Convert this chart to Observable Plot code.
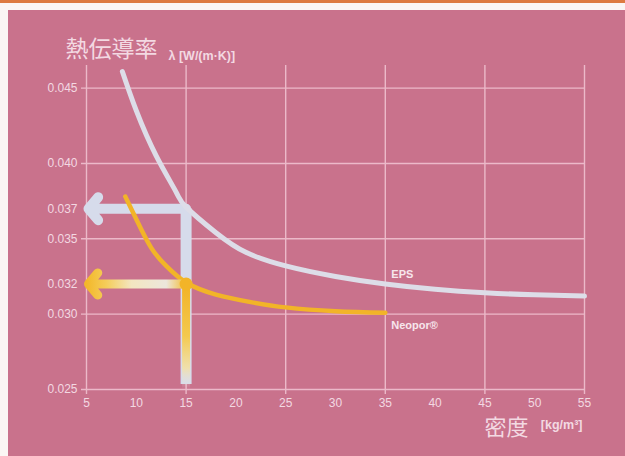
<!DOCTYPE html>
<html><head><meta charset="utf-8">
<script src="https://cdn.jsdelivr.net/npm/d3@7"></script>
<script src="https://cdn.jsdelivr.net/npm/@observablehq/plot@0.6"></script>
<style>
body{margin:0;background:#fbf6f4;width:625px;height:456px;overflow:hidden;position:relative}
#stripe{position:absolute;left:0;top:0;width:625px;height:3px;background:#dd7a40}
#chart{position:absolute;left:8px;top:10px}
</style></head><body>
<div id="stripe"></div><div id="chart"></div>
<script>
// ---- data ----
const epsDensity = [8.6, 10, 12, 14, 15, 18, 21, 25, 30, 35, 40, 45, 50, 55];
const epsLambda  = [0.0461, 0.0435, 0.0405, 0.0381, 0.0371, 0.0354, 0.0341, 0.0332, 0.0325, 0.0320, 0.03165, 0.03142, 0.03128, 0.0312];
const neoporDensity = [8.9, 10, 11.5, 13, 15, 18, 21.5, 25, 30, 35];
const neoporLambda  = [0.0378, 0.0363, 0.0344, 0.0332, 0.0321, 0.0313, 0.0308, 0.03045, 0.0302, 0.0301];
const xTicks = [5, 10, 15, 20, 25, 30, 35, 40, 45, 50, 55];
const xGrid  = [5, 15, 25, 35, 45, 55];
const yTicks = [0.025, 0.030, 0.032, 0.035, 0.037, 0.040, 0.045];
const yGrid  = [0.025, 0.030, 0.035, 0.040, 0.045];
const xDomain = [5, 55];
const yDomain = [0.025, 0.0465];
const readingDensity = [15];
const readingEPS = [0.037];
const readingNeopor = [0.032];
const seriesLabels = ["EPS", "Neopor®"];
const yTitle = "熱伝導率";
const yUnit = "λ [W/(m·K)]";
const xTitle = "密度";
const xUnit = "[kg/m³]";

const eps = epsDensity.map((d, i) => ({density: d, lambda: epsLambda[i]}));
const neopor = neoporDensity.map((d, i) => ({density: d, lambda: neoporLambda[i]}));
const readings = readingDensity.map((d, i) => ({density: d, eps: readingEPS[i], neopor: readingNeopor[i]}));

const bg = "#c9728c", grid = "#ecb9c9", ink = "#f3d9e2";
const blue = "#d6dbeb", epsColor = "#dddde8", yellow = "#f2b428";
const latin = "'Liberation Sans', Arial, sans-serif";
const cjk = "'Noto Sans CJK JP', 'Noto Sans CJK SC', sans-serif";

const chart = Plot.plot({
  width: 617, height: 446,
  marginLeft: 78, marginRight: 41, marginTop: 55, marginBottom: 67,
  style: {background: bg, color: ink, fontFamily: latin, fontSize: "12px"},
  x: {domain: xDomain},
  y: {domain: yDomain},
  marks: [
    Plot.ruleY(yGrid, {stroke: grid, strokeWidth: 1.4, insetLeft: -5}),
    Plot.ruleX(xGrid, {stroke: grid, strokeWidth: 1.4, insetBottom: -5}),
    Plot.axisY({ticks: yTicks, tickFormat: d3.format(".3f"), tickSize: 0, tickPadding: 9, label: null, fill: ink}),
    Plot.axisX({ticks: xTicks, tickFormat: d => d, tickSize: 0, tickPadding: 9, label: null, fill: ink}),
    // EPS reading arrow
    Plot.ruleX(readings, {x: "density", y1: yDomain[0], y2: "eps", stroke: blue, strokeWidth: 11, insetTop: -5}),
    Plot.arrow(readings, {x1: "density", x2: xDomain[0], y1: "eps", y2: "eps", stroke: blue, strokeWidth: 10, headLength: 2.25, headAngle: 100, insetEnd: 2}),
    // curves
    Plot.line(eps, {x: "density", y: "lambda", stroke: epsColor, strokeWidth: 5, curve: "natural", strokeLinecap: "round"}),
    Plot.line(neopor, {x: "density", y: "lambda", stroke: yellow, strokeWidth: 4.5, curve: "natural", strokeLinecap: "round"}),
    // Neopor reading arrow
    Plot.ruleX(readings, {x: "density", y1: yDomain[0], y2: "neopor", stroke: "url(#gv)", strokeWidth: 8}),
    Plot.arrow(readings, {x1: "density", x2: xDomain[0], y1: "neopor", y2: "neopor", stroke: "url(#gh)", strokeWidth: 9, headLength: 2.4, headAngle: 100, insetEnd: 2}),
    Plot.dot(readings, {x: "density", y: "neopor", r: 6.5, fill: yellow}),
    // series labels
    Plot.text(eps.filter(d => d.density === 35), {x: "density", y: "lambda", text: () => seriesLabels[0], dx: 6, dy: -10, textAnchor: "start", fill: "#f7e6ec", fontWeight: "bold", fontSize: 11}),
    Plot.text(neopor.filter(d => d.density === 35), {x: "density", y: "lambda", text: () => seriesLabels[1], dx: 6, dy: 13, textAnchor: "start", fill: "#f7e6ec", fontWeight: "bold", fontSize: 11}),
    // axis titles
    Plot.text([yTitle], {frameAnchor: "top-left", text: d => d, dx: -21, dy: -16, textAnchor: "start", lineAnchor: "middle", fontSize: 23, fontFamily: cjk, fill: ink}),
    Plot.text([yUnit], {frameAnchor: "top-left", text: d => d, dx: 82, dy: -10, textAnchor: "start", lineAnchor: "middle", fontSize: 12.5, fontWeight: "bold", fill: ink}),
    Plot.text([xTitle], {frameAnchor: "bottom-right", text: d => d, dx: -56, dy: 38, textAnchor: "end", lineAnchor: "middle", fontSize: 22, fontFamily: cjk, fill: ink}),
    Plot.text([xUnit], {frameAnchor: "bottom-right", text: d => d, dx: -2, dy: 35, textAnchor: "end", lineAnchor: "middle", fontSize: 12.5, fontWeight: "bold", fill: ink})
  ]
});

const sx = chart.scale("x"), sy = chart.scale("y");
const hx1 = sx.apply(xDomain[0]), hx2 = sx.apply(readingDensity[0]);
const vy1 = sy.apply(readingNeopor[0]), vy2 = sy.apply(yDomain[0]);
const defs = document.createElementNS("http://www.w3.org/2000/svg", "defs");
defs.innerHTML = `
<linearGradient id="gh" gradientUnits="userSpaceOnUse" x1="${hx1}" y1="0" x2="${hx2}" y2="0">
  <stop offset="0" stop-color="#f3b82a"/>
  <stop offset="0.2" stop-color="#f5cd5a"/>
  <stop offset="0.45" stop-color="#f3e6c0"/>
  <stop offset="0.8" stop-color="#ece6dc"/>
  <stop offset="1" stop-color="#f3bd36"/>
</linearGradient>
<linearGradient id="gv" gradientUnits="userSpaceOnUse" x1="0" y1="${vy1}" x2="0" y2="${vy2}">
  <stop offset="0" stop-color="#f2b226"/>
  <stop offset="0.5" stop-color="#f4c94e"/>
  <stop offset="0.8" stop-color="#f4e0a0" stop-opacity="0.85"/>
  <stop offset="1" stop-color="#e6e6ec" stop-opacity="0"/>
</linearGradient>`;
chart.insertBefore(defs, chart.firstChild);
document.getElementById("chart").append(chart);
</script>
</body></html>
